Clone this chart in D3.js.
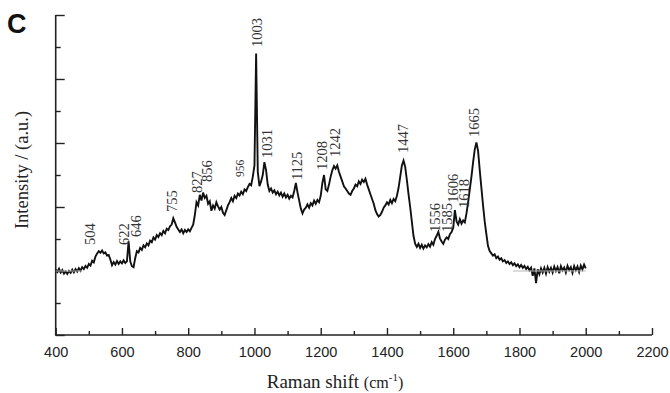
<!DOCTYPE html>
<html>
<head>
<meta charset="utf-8">
<script src="https://cdn.jsdelivr.net/npm/d3@7"></script>
<style>
  html, body { margin: 0; padding: 0; background: #fff; }
  svg { display: block; }
</style>
</head>
<body>
<svg id="chart" width="670" height="393"></svg>
<script>
// ---- data ----
const shiftStart = 400, shiftStep = 5;
const intensity = [
  // 400-495
  2.05,1.97,2.07,1.95,2.03,1.92,1.99,1.91,2.00,1.94,2.04,1.96,2.06,1.98,2.09,2.01,2.12,2.06,2.16,2.10,
  // 500-595
  2.22,2.17,2.32,2.27,2.45,2.55,2.62,2.57,2.64,2.55,2.58,2.48,2.50,2.36,2.18,2.28,2.20,2.31,2.22,2.30,
  // 600-695
  2.24,2.33,2.25,2.30,2.93,2.30,2.15,2.12,2.40,2.62,2.58,2.72,2.66,2.80,2.74,2.86,2.80,2.95,2.90,3.05,
  // 700-795
  2.98,3.12,3.06,3.18,3.12,3.25,3.18,3.32,3.28,3.40,3.45,3.65,3.52,3.38,3.30,3.22,3.30,3.18,3.28,3.22,
  // 800-895
  3.30,3.24,3.35,3.45,3.75,4.15,4.05,4.38,4.20,4.45,4.28,4.35,4.10,4.18,3.88,4.05,3.95,4.15,4.02,3.92,
  // 900-995
  4.00,3.82,3.75,3.90,4.05,4.15,4.28,4.18,4.35,4.28,4.42,4.36,4.48,4.40,4.55,4.50,4.62,4.72,4.68,4.95,
  // 1000-1095
  5.30,8.80,5.10,4.65,4.80,5.00,5.40,5.15,4.70,4.50,4.58,4.45,4.52,4.40,4.48,4.36,4.45,4.32,4.42,4.30,
  // 1100-1195
  4.38,4.26,4.35,4.30,4.50,4.75,4.45,4.20,3.95,3.80,3.92,3.98,4.08,3.98,4.12,4.05,4.20,4.10,4.22,4.15,
  // 1200-1295
  4.35,4.75,5.00,4.55,4.50,4.70,4.95,5.15,5.28,5.20,5.30,5.10,4.95,4.80,4.65,4.58,4.50,4.42,4.38,4.50,
  // 1300-1395
  4.58,4.70,4.65,4.80,4.72,4.85,4.78,4.88,4.70,4.55,4.40,4.25,4.10,3.90,3.78,3.70,3.75,3.85,3.98,4.05,
  // 1400-1495
  4.15,4.08,4.22,4.12,4.25,4.18,4.35,4.60,4.95,5.30,5.45,5.25,4.85,4.40,4.00,3.55,3.10,2.85,2.75,2.85,
  // 1500-1595
  2.72,2.82,2.70,2.80,2.74,2.84,2.76,2.90,2.82,3.00,3.10,3.22,3.02,2.92,2.85,2.98,3.05,3.00,3.15,3.22,
  // 1600-1695
  3.35,3.90,3.55,3.45,3.62,3.48,3.58,3.52,3.80,4.15,4.55,4.95,5.40,5.80,6.02,5.75,5.15,4.60,4.05,3.55,
  // 1700-1795
  3.15,2.78,2.62,2.55,2.48,2.52,2.40,2.45,2.35,2.40,2.30,2.34,2.25,2.30,2.22,2.27,2.18,2.24,2.15,2.21,
  // 1800-1895
  2.12,2.19,2.10,2.16,2.06,2.13,2.02,2.10,1.85,2.08,1.62,2.05,1.90,2.08,1.95,2.10,1.92,2.12,1.98,2.10,
  // 1900-1995
  1.95,2.14,2.00,2.12,1.93,2.15,2.02,2.11,1.95,2.16,2.03,2.12,1.94,2.15,2.02,2.14,1.97,2.17,2.05,2.20,
  // 2000
  2.08
];
const ramanShift = intensity.map((_, i) => shiftStart + i * shiftStep);

// grey baseline segments
const baselineSegments = [[400, 480], [1780, 2000]];
const baselineLevel = 2.0;

// peak annotations
const peakLabels    = ["504","622","646","755","827","856","956","1003","1031","1125","1208","1242","1447","1556","1585","1606","1618","1665"];
const peakLabelX    = [503.6, 606, 642.6, 751, 827, 857, 957, 1007, 1037, 1129, 1204.5, 1244, 1449, 1544, 1580, 1598, 1631, 1662];
const peakLabelY    = [2.81, 2.81, 3.06, 3.84, 4.44, 4.78, 4.94, 9.0, 5.53, 4.84, 5.16, 5.56, 5.69, 3.22, 3.22, 4.13, 3.97, 6.19];
const smallLabels   = ["956"];

const xTicks = [400, 600, 800, 1000, 1200, 1400, 1600, 1800, 2000, 2200];
const xMinorTicks = [500, 700, 900, 1100, 1300, 1500, 1700, 1900, 2100];
const yMajorTicks = [0, 2, 4, 6, 8, 10];
const yMinorTicks = [1, 3, 5, 7, 9];

// ---- layout ----
const mLeft = 55.7, mRight = 652, mTop = 15, mBottom = 335;
const svg = d3.select("#chart");
const x = d3.scaleLinear().domain([400, 2200]).range([mLeft, mRight]);
const y = d3.scaleLinear().domain([0, 10]).range([mBottom, mTop]);

const axisColor = "#222";

// axes
const xAxis = svg.append("g").attr("transform", `translate(0,${mBottom})`)
  .call(d3.axisBottom(x).tickValues(xTicks).tickSize(-7).tickPadding(12).tickFormat(d3.format("d")));
const xMinor = svg.append("g").attr("transform", `translate(0,${mBottom})`)
  .call(d3.axisBottom(x).tickValues(xMinorTicks).tickSize(-4).tickFormat(""));
const yAxis = svg.append("g").attr("transform", `translate(${mLeft},0)`)
  .call(d3.axisLeft(y).tickValues(yMajorTicks).tickSize(-9).tickFormat(""));
const yMinor = svg.append("g").attr("transform", `translate(${mLeft},0)`)
  .call(d3.axisLeft(y).tickValues(yMinorTicks).tickSize(-5).tickFormat(""));

[xAxis, xMinor, yAxis, yMinor].forEach(g => {
  g.select(".domain").remove();
  g.selectAll(".tick line").attr("stroke", axisColor).attr("stroke-width", 1.4);
});

// axis lines
svg.append("path")
  .attr("d", `M${x(400)},${y(10)}V${y(0)}H${x(2200)}`)
  .attr("fill", "none").attr("stroke", axisColor).attr("stroke-width", 1.6);

xAxis.selectAll(".tick text")
  .attr("font-family", "'Liberation Sans', Arial, sans-serif")
  .attr("font-size", "14.5px").attr("fill", "#222");

// spectrum
const line = d3.line().x((d, i) => x(ramanShift[i])).y(d => y(d));
svg.append("path").datum(intensity)
  .attr("d", line).attr("fill", "none")
  .attr("stroke", "#111").attr("stroke-width", 1.9).attr("stroke-linejoin", "miter");

// grey baseline segments
svg.selectAll(".baseline").data(baselineSegments).join("line")
  .attr("x1", d => x(d[0])).attr("x2", d => x(d[1]))
  .attr("y1", y(baselineLevel)).attr("y2", y(baselineLevel))
  .attr("stroke", "#b8b8b8").attr("stroke-width", 1);

// peak labels
svg.selectAll(".peak").data(peakLabels).join("text")
  .attr("transform", (d, i) => `translate(${x(peakLabelX[i])},${y(peakLabelY[i])}) rotate(-90)`)
  .attr("dy", "0.35em")
  .attr("text-anchor", "start")
  .attr("font-family", "'Liberation Serif', 'Times New Roman', serif")
  .attr("font-size", d => smallLabels.includes(d) ? "11.5px" : "14.5px")
  .attr("fill", "#333")
  .text(d => d);

// axis titles
svg.append("text")
  .attr("transform", `translate(28,${170}) rotate(-90)`)
  .attr("text-anchor", "middle")
  .attr("font-family", "'Liberation Serif', 'Times New Roman', serif")
  .attr("font-size", "18.5px").attr("fill", "#222")
  .text("Intensity / (a.u.)");

const xt = svg.append("text")
  .attr("x", 335).attr("y", 388)
  .attr("text-anchor", "middle")
  .attr("font-family", "'Liberation Serif', 'Times New Roman', serif")
  .attr("font-size", "19px").attr("fill", "#222");
xt.append("tspan").text("Raman shift ");
xt.append("tspan").attr("font-size", "16px").text("(cm");
xt.append("tspan").attr("font-size", "11px").attr("dy", "-7").text("-1");
xt.append("tspan").attr("font-size", "16px").attr("dy", "7").text(")");

// panel letter
svg.append("text")
  .attr("x", 7).attr("y", 33)
  .attr("font-family", "'Liberation Sans', Arial, sans-serif")
  .attr("font-weight", "bold").attr("font-size", "27px").attr("fill", "#111")
  .text("C");
</script>
</body>
</html>
